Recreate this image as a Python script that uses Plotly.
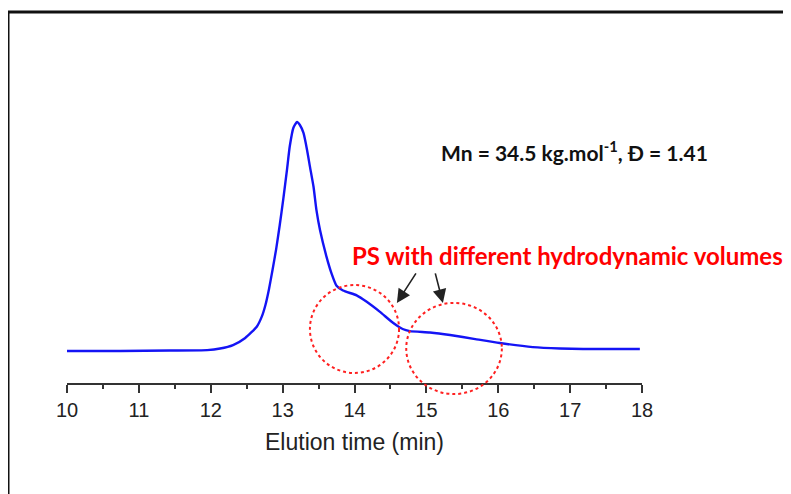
import plotly.graph_objects as go

# Elution time (min) and normalised RI signal
elution_time = [10.00, 10.74, 11.43, 11.95, 12.13, 12.31, 12.48, 12.64, 12.71, 12.76,
                12.81, 12.86, 12.91, 12.96, 13.01, 13.06, 13.10, 13.15, 13.20, 13.24,
                13.29, 13.34, 13.38, 13.43, 13.47, 13.52, 13.61, 13.68, 13.75, 13.84,
                14.03, 14.17, 14.35, 14.54, 14.67, 14.77, 15.05, 15.33, 15.68, 16.02,
                16.48, 16.86, 17.18, 17.55, 17.97]
signal = [0.000, 0.000, 0.002, 0.004, 0.011, 0.026, 0.057, 0.106, 0.150, 0.200,
          0.270, 0.355, 0.445, 0.550, 0.665, 0.790, 0.895, 0.975, 1.000, 0.987,
          0.952, 0.878, 0.805, 0.717, 0.616, 0.528, 0.412, 0.339, 0.285, 0.264,
          0.243, 0.215, 0.172, 0.122, 0.096, 0.087, 0.081, 0.070, 0.052, 0.035,
          0.017, 0.011, 0.009, 0.009, 0.009]

x_ticks = [10, 11, 12, 13, 14, 15, 16, 17, 18]
x_title = "Elution time (min)"
label_mn = "Mn = 34.5 kg.mol<sup>-1</sup>, Đ = 1.41"
label_ps = "PS with different hydrodynamic volumes"

# highlighted regions (x0, x1, y0, y1) in data units
circles = [(13.38, 14.62, -0.096, 0.288), (14.72, 16.05, -0.188, 0.210)]
# arrow heads (x, y) in data units
arrow_heads = [(14.59, 0.210), (15.23, 0.210)]
arrow_offsets = [(20, -31), (-8, -31)]

X_RANGE = [10, 18]
Y_RANGE = [-0.1397, 1.096]
W, H = 791, 494
OFF = 8  # page body offset
ML, MR, MT, MB = 67 - OFF, 149 + OFF, 100 - OFF, 111 + OFF


def xp(v):
    return (v - X_RANGE[0]) / (X_RANGE[1] - X_RANGE[0])


def yp(v):
    return (v - Y_RANGE[0]) / (Y_RANGE[1] - Y_RANGE[0])


fig = go.Figure()
fig.add_trace(go.Scatter(x=elution_time, y=signal, mode="lines",
                         line=dict(color="#1414f5", width=2.4, shape="spline",
                                   smoothing=0.5),
                         hoverinfo="skip", showlegend=False))

shapes = []
for x0, x1, y0, y1 in circles:
    shapes.append(dict(type="circle", xref="paper", yref="paper",
                       x0=xp(x0), x1=xp(x1), y0=yp(y0), y1=yp(y1),
                       line=dict(color="#ff2020", width=2, dash="dot")))

# outer frame (left and top edges visible)
pw, ph = W - ML - MR, H - MT - MB
fx0 = (8 - OFF - ML) / pw
fy1 = (H - MB - (12 - OFF)) / ph
shapes.append(dict(type="line", xref="paper", yref="paper", x0=fx0, x1=fx0,
                   y0=fy1, y1=-0.6, line=dict(color="#111111", width=3)))
shapes.append(dict(type="line", xref="paper", yref="paper", x0=fx0, x1=1.5,
                   y0=fy1, y1=fy1, line=dict(color="#111111", width=3)))

annotations = [
    dict(x=17.06, y=0.873, xref="x", yref="y", text=label_mn, showarrow=False,
         font=dict(family="Lato, Open Sans, sans-serif", size=21, color="#111111",
                   weight="bold"),
         xanchor="center", yanchor="middle"),
    dict(x=16.97, y=0.415, xref="x", yref="y", text=label_ps, showarrow=False,
         font=dict(family="Lato, Open Sans, sans-serif", size=24, color="#ff0000",
                   weight="bold"),
         xanchor="center", yanchor="middle"),
]
for (hx, hy), (ax, ay) in zip(arrow_heads, arrow_offsets):
    annotations.append(dict(x=hx, y=hy, xref="x", yref="y", ax=ax, ay=ay,
                            text="", showarrow=True, arrowhead=2, arrowsize=1.7,
                            arrowwidth=1.6, arrowcolor="#222222"))

fig.update_layout(
    width=W, height=H,
    margin=dict(l=ML, r=MR, t=MT, b=MB),
    paper_bgcolor="white", plot_bgcolor="white",
    shapes=shapes, annotations=annotations,
    xaxis=dict(range=X_RANGE, tickvals=x_ticks, ticktext=[str(t) for t in x_ticks],
               showline=True, linecolor="#333333", linewidth=2,
               ticks="outside", ticklen=8, tickwidth=2, tickcolor="#333333",
               minor=dict(dtick=0.5, ticks="outside", ticklen=4, tickwidth=2,
                          tickcolor="#333333"),
               showgrid=False, zeroline=False,
               tickfont=dict(family="Liberation Sans, Arial", size=20,
                             color="#222222"),
               title=dict(text=x_title, standoff=14,
                          font=dict(family="Liberation Sans, Arial",
                                    size=23, color="#222222"))),
    yaxis=dict(range=Y_RANGE, visible=False),
)

fig.write_html("out.html")
